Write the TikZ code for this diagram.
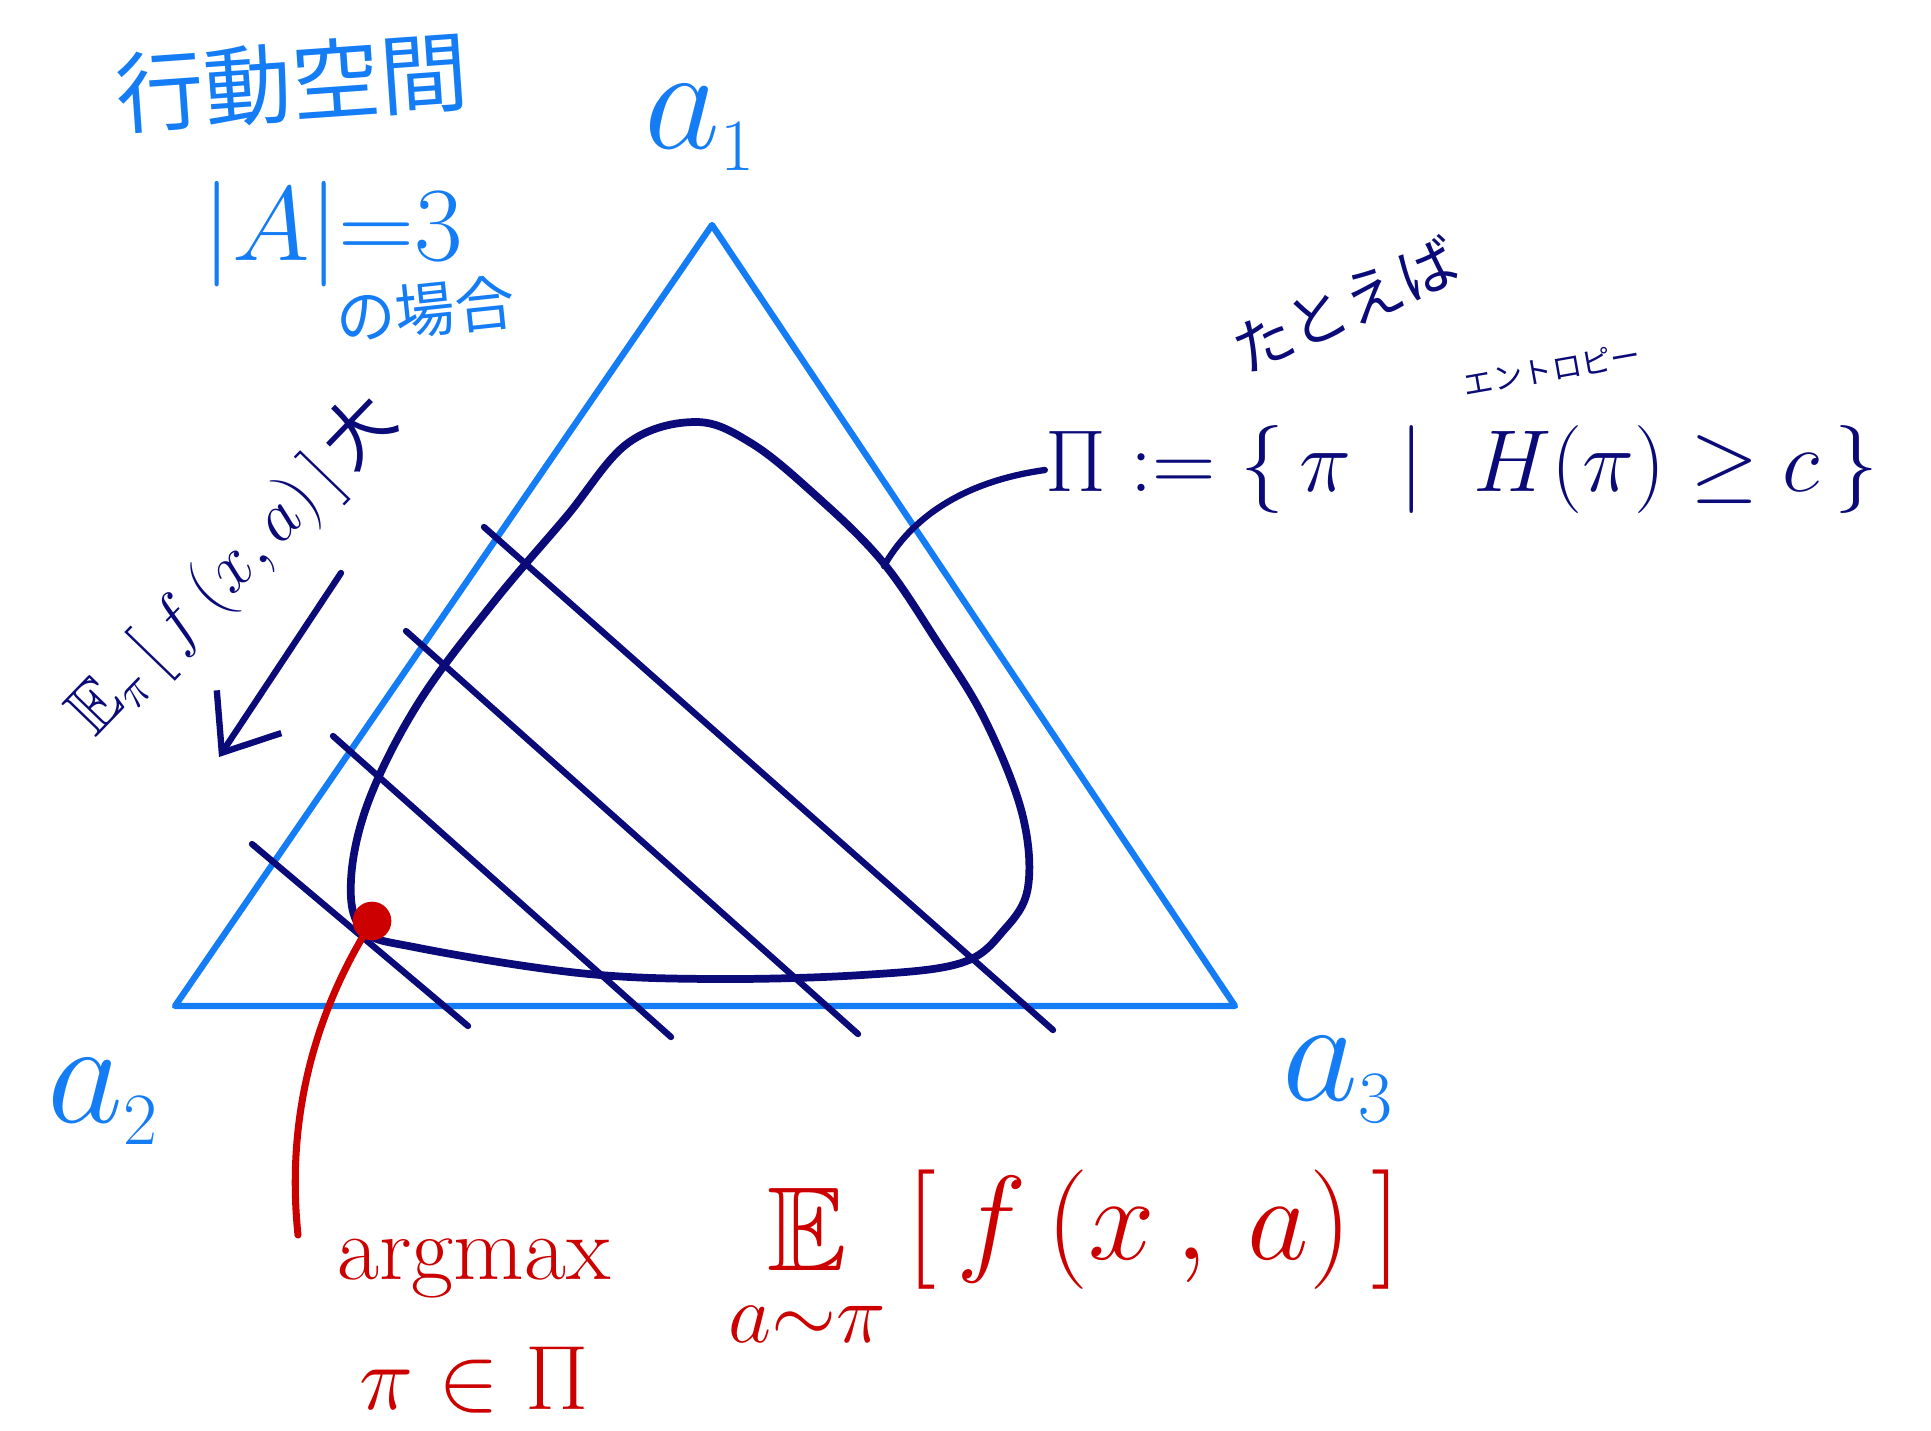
\RequirePackage{fix-cm}
\documentclass[tikz,border=0pt]{standalone}
\usepackage{amssymb}
\usepackage{fontspec}
\newfontfamily\jp{Noto Sans CJK JP}
\usetikzlibrary{arrows.meta}
\definecolor{sblue}{RGB}{20,125,245}
\definecolor{navy}{RGB}{10,10,120}
\definecolor{sred}{RGB}{205,0,0}
\newcommand{\fs}[1]{\fontsize{#1}{1.2\dimexpr#1\relax}\selectfont}

\begin{document}
\begin{tikzpicture}[x=0.01cm,y=-0.01cm,
    edge/.style={sblue,line width=1.8pt,line join=round},
    cut/.style={navy,line width=1.8pt,line cap=round},
    lbl/.style={inner sep=0pt}]
    \useasboundingbox (0,0) rectangle (1931,1430);

    \coordinate (a1) at (712,225);
    \coordinate (a2) at (175,1006);
    \coordinate (a3) at (1235,1006);
    \draw[edge] (a1) -- (a2) -- (a3) -- cycle;

    \node[lbl,sblue,font=\fs{42pt}] (la1) at (700,128) {$a_{\scriptscriptstyle 1}$};
    \node[lbl,sblue,font=\fs{42pt}] (la2) at (103,1102) {$a_{\scriptscriptstyle 2}$};
    \node[lbl,sblue,font=\fs{42pt}] (la3) at (1338,1080) {$a_{\scriptscriptstyle 3}$};

    \node[lbl,sblue,font=\jp\fs{25pt},rotate=4] (title) at (292,82) {行動空間};
    \node[lbl,sblue,font=\fs{30pt}] (card) at (333,234) {$|A|{=}3$};
    \node[lbl,sblue,font=\jp\fs{17pt},rotate=6] (case) at (425,310) {の場合};

    \draw[navy,line width=2.2pt,line join=round] plot[smooth cycle,tension=0.6] coordinates {
        (696,422) (751,443) (813,493) (881,560) (936,640) (985,720)
        (1022,813) (1028,887) (1004,930) (961,963) (862,975) (714,979)
        (579,973) (419,948) (363,930) (351,880) (369,800) (419,702)
        (493,603) (566,517) (628,443)};

    \draw[cut] (484,527) -- (1053,1030);
    \draw[cut] (406,631) -- (858,1034);
    \draw[cut] (333,736) -- (671,1037);
    \draw[cut] (252,844) -- (468,1026);

    \coordinate (arrs) at (341,573);
    \coordinate (arre) at (219,757);
    \draw[navy,line width=1.8pt,line cap=round,
        -{Straight Barb[length=14pt,width=22pt,line width=1.8pt]}] (arrs) -- (arre);
    \node[lbl,navy,font=\fs{20pt},rotate=46] (incr) at (233,566)
        {$\mathbb{E}_\pi\,[\,f\,(x,a)\,]$\,\jp 大};

    \node[lbl,navy,font=\fs{25pt}] (setdef) at (1462,470)
        {$\Pi := \bigl\{\,\pi \;\bigm|\; H(\pi) \geq c\,\bigr\}$};
    \node[lbl,navy,font=\jp\fs{17pt},rotate=24] (eg) at (1345,305) {たとえば};
    \node[lbl,navy,font=\jp\fs{8.5pt},rotate=10] (ent) at (1552,369) {エントロピー};
    \coordinate (touch) at (884,566);
    \draw[navy,line width=1.8pt,line cap=round] (setdef.west)
        .. controls (960,482) and (910,520) .. (touch);

    \node[circle,fill=sred,inner sep=0pt,minimum size=11pt] (dot) at (372,921) {};
    \node[lbl,sred,font=\fs{26pt}] (amax) at (474,1268) {$\mathrm{argmax}$};
    \node[lbl,sred,font=\fs{26pt}] (cond) at (474,1380) {$\pi\in\Pi$};
    \node[lbl,sred,font=\fs{34pt}] (obj) at (1065,1262)
        {$\mathop{\mathbb{E}}\limits_{a\sim\pi}\bigg[\,f\,(x\,,\,a)\,\bigg]$};
    \coordinate (tail) at (298,1235);
    \draw[sred,line width=2pt,line cap=round] (dot)
        .. controls (320,1010) and (285,1110) .. (tail);
\end{tikzpicture}
\end{document}
